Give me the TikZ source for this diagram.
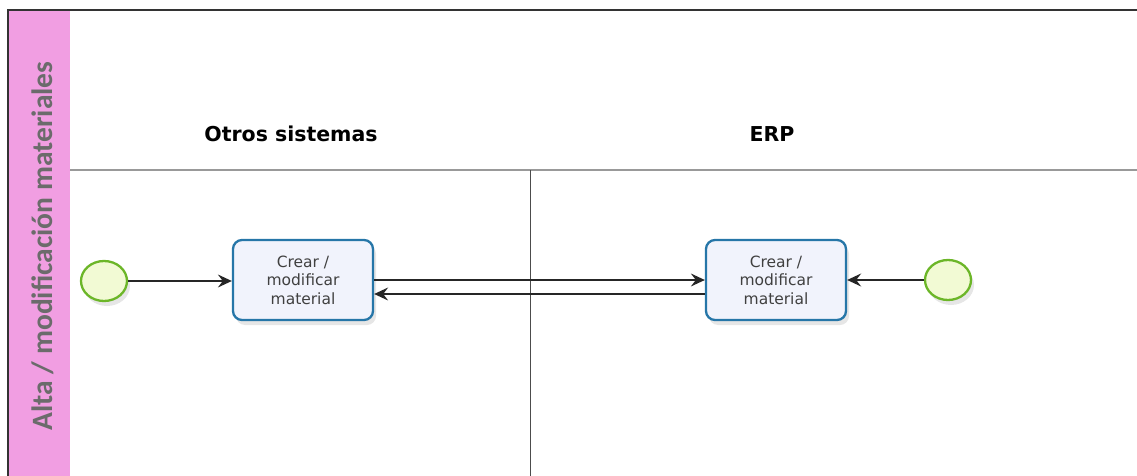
\documentclass[tikz,border=0pt]{standalone}
\usepackage{fontspec}
\newfontfamily\headfont{DejaVu Sans}
\newfontfamily\lanefont{Carlito}
\newfontfamily\taskfont{DejaVu Sans}
\usetikzlibrary{shapes.geometric,arrows.meta,shadows}
\definecolor{lanepink}{RGB}{241,158,226}
\definecolor{taskblue}{RGB}{38,118,168}
\definecolor{taskfill}{RGB}{241,243,252}
\definecolor{evgreen}{RGB}{108,182,40}
\definecolor{evfill}{RGB}{242,250,212}
\tikzset{
  task/.style={draw=taskblue,fill=taskfill,line width=2.3pt,rounded corners=9pt,
    minimum width=140pt,minimum height=80pt,align=center,
    font=\taskfont\fontsize{15.5}{18.5}\selectfont,text=black!75,
    drop shadow={shadow xshift=3pt,shadow yshift=-5pt,opacity=0.2}},
  startev/.style={ellipse,draw=evgreen,fill=evfill,line width=2.3pt,
    minimum width=46pt,minimum height=40pt,
    drop shadow={shadow xshift=3pt,shadow yshift=-5pt,opacity=0.2}},
  flow/.style={draw=black!85,line width=1.4pt,-{Stealth[length=14pt,width=13pt,inset=5pt]}},
  header/.style={font=\headfont\bfseries\fontsize{20.5}{24}\selectfont}
}
\begin{document}
\begin{tikzpicture}[x=1pt,y=-1pt]
  \useasboundingbox (0,0) rectangle (1137,476);

  % pool
  \fill[lanepink] (9,11) rectangle (70,476);
  \draw[line width=2pt,black!80] (8,476) -- (8,10) -- (1137,10);
  \draw[line width=2pt,black!40] (70,170) -- (1137,170);
  \draw[line width=1pt,black!70] (530,170) -- (530,476);

  \node[rotate=90,font=\lanefont\bfseries\fontsize{29.5}{32}\selectfont,text=black!58] (lane) at (43,246) {Alta / modificación materiales};
  \node[header] (otros) at (291,134) {Otros sistemas};
  \node[header] (erp)   at (772,134) {ERP};

  % nodes
  \node[startev] (s1) at (104,281) {};
  \node[task]    (t1) at (303,280) {Crear /\\modificar\\material};
  \node[task]    (t2) at (776,280) {Crear /\\modificar\\material};
  \node[startev] (s2) at (948,280) {};

  % flows
  \draw[flow] (s1.east) -- (s1.east -| t1.west);
  \draw[flow] (t1.east) -- (t2.west);
  \draw[flow] ([yshift=-14pt]t2.west) -- ([yshift=-14pt]t1.east);
  \draw[flow] (s2) -- (t2);

\end{tikzpicture}
\end{document}
